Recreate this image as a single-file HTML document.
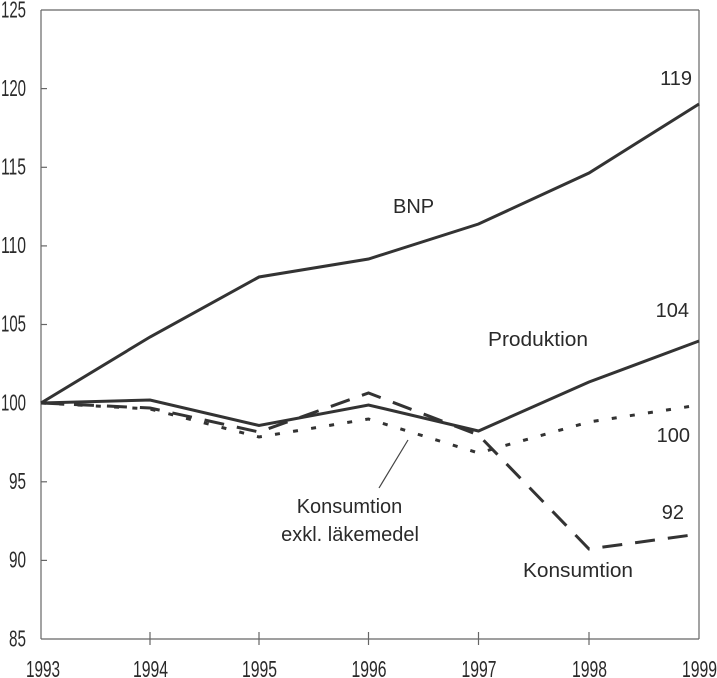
<!DOCTYPE html>
<html>
<head>
<meta charset="utf-8">
<style>
  html,body{margin:0;padding:0;background:#fff;}
  svg{display:block;}
  .tick{font-family:"Liberation Sans Narrow","Liberation Sans",sans-serif;font-size:23px;fill:#2a2a2a;}
  .lab{font-family:"Liberation Sans",sans-serif;font-size:20px;fill:#2a2a2a;}
</style>
</head>
<body>
<svg width="717" height="678" viewBox="0 0 717 678" xmlns="http://www.w3.org/2000/svg">
  <rect width="717" height="678" fill="#fff"/>
  <!-- frame -->
  <g stroke="#666" stroke-width="1.2" fill="none">
    <line x1="41" y1="10" x2="699" y2="10"/>
    <line x1="41" y1="10" x2="41" y2="639"/>
    <line x1="699" y1="10" x2="699" y2="639"/>
    <line x1="41" y1="639" x2="699" y2="639"/>
    <line x1="41" y1="88.6" x2="47" y2="88.6"/>
    <line x1="41" y1="167.3" x2="47" y2="167.3"/>
    <line x1="41" y1="245.9" x2="47" y2="245.9"/>
    <line x1="41" y1="324.5" x2="47" y2="324.5"/>
    <line x1="41" y1="403.1" x2="47" y2="403.1"/>
    <line x1="41" y1="481.8" x2="47" y2="481.8"/>
    <line x1="41" y1="560.4" x2="47" y2="560.4"/>
    <line x1="150" y1="632" x2="150" y2="645"/>
    <line x1="259" y1="632" x2="259" y2="645"/>
    <line x1="368.5" y1="632" x2="368.5" y2="645"/>
    <line x1="478.5" y1="632" x2="478.5" y2="645"/>
    <line x1="589" y1="632" x2="589" y2="645"/>
  </g>

  <!-- y labels -->
  <g class="tick" text-anchor="end">
    <text x="26" y="17.5" textLength="25" lengthAdjust="spacingAndGlyphs">125</text>
    <text x="26" y="96" textLength="25" lengthAdjust="spacingAndGlyphs">120</text>
    <text x="26" y="174.5" textLength="25" lengthAdjust="spacingAndGlyphs">115</text>
    <text x="26" y="253" textLength="25" lengthAdjust="spacingAndGlyphs">110</text>
    <text x="26" y="331.5" textLength="25" lengthAdjust="spacingAndGlyphs">105</text>
    <text x="26" y="410.5" textLength="25" lengthAdjust="spacingAndGlyphs">100</text>
    <text x="26" y="489" textLength="17" lengthAdjust="spacingAndGlyphs">95</text>
    <text x="26" y="567.5" textLength="17" lengthAdjust="spacingAndGlyphs">90</text>
    <text x="26" y="646.5" textLength="17" lengthAdjust="spacingAndGlyphs">85</text>
  </g>
  <!-- x labels -->
  <g class="tick" text-anchor="middle">
    <text x="43" y="677" textLength="34" lengthAdjust="spacingAndGlyphs">1993</text>
    <text x="150.5" y="677" textLength="35" lengthAdjust="spacingAndGlyphs">1994</text>
    <text x="259.5" y="677" textLength="35" lengthAdjust="spacingAndGlyphs">1995</text>
    <text x="369" y="677" textLength="35" lengthAdjust="spacingAndGlyphs">1996</text>
    <text x="479" y="677" textLength="35" lengthAdjust="spacingAndGlyphs">1997</text>
    <text x="589.5" y="677" textLength="35" lengthAdjust="spacingAndGlyphs">1998</text>
    <text x="699.5" y="677" textLength="35" lengthAdjust="spacingAndGlyphs">1999</text>
  </g>

  <!-- series -->
  <g fill="none" stroke="#333" stroke-width="3" stroke-linejoin="miter">
    <polyline points="41,403 150,337 259,277 368.5,259 478.5,224 589,173 699,104"/>
    <polyline points="41,403 150,400 259,425.5 368.5,405 478.5,431 589,382 699,341"/>
    <polyline points="41,403 150,408 259,432 368.5,393 478.5,435 589,549 699,534" stroke-dasharray="20 13"/>
    <polyline points="41,403 150,409 259,437 368.5,419 478.5,453 589,422 699,405" stroke-dasharray="5 13.3"/>
  </g>

  <!-- pointer -->
  <line x1="408" y1="440" x2="379" y2="488" stroke="#444" stroke-width="1.2"/>

  <!-- labels -->
  <g class="lab">
    <text x="692" y="85" text-anchor="end">119</text>
    <text x="393" y="213">BNP</text>
    <text x="689" y="317" text-anchor="end">104</text>
    <text x="488" y="346" textLength="100" lengthAdjust="spacingAndGlyphs">Produktion</text>
    <text x="690" y="442" text-anchor="end">100</text>
    <text x="684" y="519" text-anchor="end">92</text>
    <text x="349.5" y="513" text-anchor="middle">Konsumtion</text>
    <text x="350" y="541" text-anchor="middle">exkl. läkemedel</text>
    <text x="523" y="577" textLength="110" lengthAdjust="spacingAndGlyphs">Konsumtion</text>
  </g>
</svg>
</body>
</html>
